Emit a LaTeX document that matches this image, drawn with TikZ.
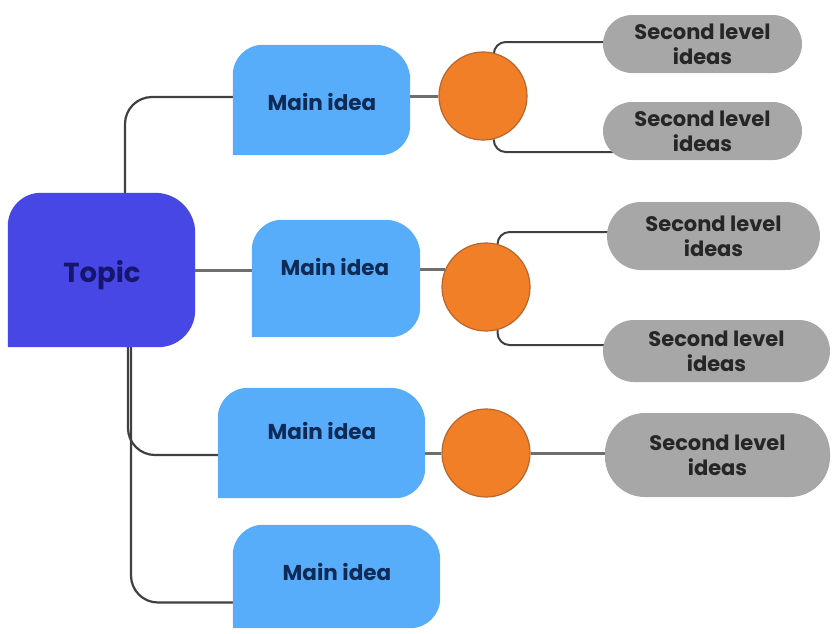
\documentclass[tikz,border=0pt]{standalone}
\usepackage{fontspec}
\setmainfont{Poppins}
\pgfdeclarelayer{lines}
\pgfdeclarelayer{shapes}
\pgfsetlayers{lines,shapes,main}
\definecolor{topicblue}{HTML}{4747E6}
\definecolor{mainblue}{HTML}{58ADFA}
\definecolor{bubbleorange}{HTML}{F07F28}
\definecolor{bubbleedge}{HTML}{B8662C}
\definecolor{slgray}{HTML}{A7A7A7}
\definecolor{darkline}{HTML}{404040}
\definecolor{grayline}{HTML}{6E6E6E}
\definecolor{topictext}{HTML}{16166E}
\definecolor{maintext}{HTML}{0E2A55}
\definecolor{sltext}{HTML}{262626}
\newcommand\leafshape[5]{%
  \fill[#5] (#1.south west) -- ([yshift=-#2]#1.north west)
    arc[start angle=180,end angle=90,radius=#2]
    -- ([xshift=-#3]#1.north east)
    arc[start angle=90,end angle=0,radius=#3]
    -- ([yshift=#4]#1.south east)
    arc[start angle=0,end angle=-90,radius=#4] -- cycle;}
\tikzset{
  boxarea/.style={rectangle,inner sep=0pt,draw=none,fill=none},
  topiclabel/.style={inner sep=0pt,font=\bfseries\fontsize{27.5}{30}\selectfont,text=topictext},
  mainlabel/.style={inner sep=0pt,font=\bfseries\fontsize{21.5}{24}\selectfont,text=maintext},
  bubble/.style={circle,minimum size=88pt,inner sep=0pt,fill=bubbleorange,draw=bubbleedge,line width=1.2pt},
  slbox/.style={rectangle,inner sep=0pt,fill=slgray,align=center,
    font=\bfseries\fontsize{21}{25}\selectfont,text=sltext},
  trunk/.style={draw=darkline,line width=2.2pt,rounded corners=27pt},
  grayconn/.style={draw=grayline,line width=3pt},
  slconn/.style={draw=darkline,line width=2pt,rounded corners=12pt},
}
\begin{document}
\begin{tikzpicture}[x=1pt,y=-1pt]
\useasboundingbox (0,0) rectangle (832,633);
% topic and main ideas
\node[boxarea,minimum width=187pt,minimum height=154pt] (T) at (101.5,270) {};
\node[topiclabel] (Tt) at (102,275) {Topic};
\node[boxarea,minimum width=177pt,minimum height=110pt] (M1) at (321.5,100) {};
\node[mainlabel] (M1t) at (322,102) {Main idea};
\node[boxarea,minimum width=168pt,minimum height=117pt] (M2) at (336,278.5) {};
\node[mainlabel] (M2t) at (335,267) {Main idea};
\node[boxarea,minimum width=207pt,minimum height=110pt] (M3) at (321.5,443) {};
\node[mainlabel] (M3t) at (322,431) {Main idea};
\node[boxarea,minimum width=207pt,minimum height=103pt] (M4) at (336.5,576.5) {};
\node[mainlabel] (M4t) at (337,572) {Main idea};
% bubbles
\node[bubble] (C1) at (483,96) {};
\node[bubble] (C2) at (486,287) {};
\node[bubble] (C3) at (486,453) {};
% second level
\node[slbox,minimum width=199pt,minimum height=58pt,rounded corners=29pt] (S1) at (702.5,44) {Second level\\ideas};
\node[slbox,minimum width=199pt,minimum height=58pt,rounded corners=29pt] (S2) at (702.5,131) {Second level\\ideas};
\node[slbox,minimum width=213pt,minimum height=68pt,rounded corners=34pt] (S3) at (713.5,236) {Second level\\ideas};
\node[slbox,minimum width=227pt,minimum height=62pt,rounded corners=31pt] (S4) at (716.5,351) {Second level\\ideas};
\node[slbox,minimum width=225pt,minimum height=84pt,rounded corners=40pt] (S5) at (717.5,455) {Second level\\ideas};
% shapes
\begin{pgfonlayer}{shapes}
\leafshape{T}{33pt}{40pt}{37pt}{topicblue}
\leafshape{M1}{30pt}{35pt}{30pt}{mainblue}
\leafshape{M2}{30pt}{35pt}{30pt}{mainblue}
\leafshape{M3}{30pt}{35pt}{30pt}{mainblue}
\leafshape{M4}{30pt}{35pt}{30pt}{mainblue}
\end{pgfonlayer}
% connectors
\begin{pgfonlayer}{lines}
\coordinate (trA) at (125,0);
\coordinate (trB) at (128,0);
\coordinate (trC) at (131,0);
\path[trunk] (T.north -| trA) |- ([yshift=3pt]M1.west);
\path[grayconn] (T.east) -- (T.east -| M2.west);
\path[trunk] (T.south -| trB) |- ([yshift=-12pt]M3.west);
\path[trunk] (T.south -| trC) |- ([yshift=-26pt]M4.west);
\path[grayconn] (C1.west -| M1.east) -- (C1.west);
\path[grayconn] (M2.east |- C2.157) -- (C2.157);
\path[grayconn] (C3.west -| M3.east) -- (C3.west);
\path[slconn] (C1.76) |- ([xshift=6pt,yshift=2pt]S1.west);
\path[slconn] (C1.-76) |- ([xshift=10pt,yshift=-21pt]S2.west);
\path[slconn] (C2.75) |- ([xshift=6pt,yshift=4pt]S3.west);
\path[slconn] (C2.-75) |- ([xshift=6pt,yshift=6pt]S4.west);
\path[grayconn] (C3.east) -- (C3.east -| S5.west);
\end{pgfonlayer}
\end{tikzpicture}
\end{document}
